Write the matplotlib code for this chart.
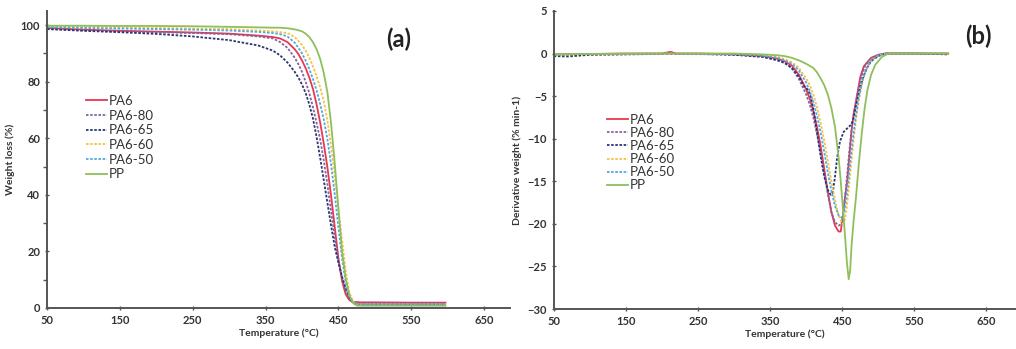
import matplotlib.pyplot as plt
import numpy as np

plt.rcParams['font.family'] = ['Lato', 'DejaVu Sans']

# ---- panel (a): TGA weight loss ----
Ta = [50, 100, 150, 200, 250, 300, 340, 360, 370, 380, 390, 395, 400, 405, 410, 415,
      420, 425, 430, 435, 440, 445, 450, 455, 460, 465, 470, 475, 480, 500, 550, 597]

wl_pa6 = [99.0, 98.4, 98.0, 97.7, 97.4, 97.0, 96.3, 95.8, 95.3, 94.0, 91.5, 89.8, 87.5, 84.8, 81.5, 77.5,
          72.0, 65.5, 58.0, 49.5, 39.5, 28.5, 17.5, 9.5, 4.8, 2.8, 2.2, 2.1, 2.0, 2.0, 1.9, 1.9]
wl_pa6_80 = [98.8, 98.2, 97.8, 97.5, 97.2, 96.8, 96.0, 95.3, 94.0, 92.0, 88.5, 86.2, 83.5, 80.0, 76.0, 71.0,
             65.5, 59.5, 52.0, 43.5, 34.0, 25.0, 17.0, 10.5, 6.0, 3.3, 1.8, 1.5, 1.4, 1.4, 1.4, 1.4]
wl_pa6_65 = [98.6, 98.0, 97.5, 96.9, 96.0, 94.7, 92.8, 91.0, 89.3, 86.8, 83.5, 81.5, 79.0, 76.0, 72.0, 67.0,
             60.5, 53.0, 45.0, 37.0, 29.0, 21.5, 16.0, 11.0, 7.0, 3.8, 1.8, 1.2, 1.1, 1.1, 1.1, 1.1]
wl_pa6_60 = [99.5, 99.4, 99.2, 99.0, 98.8, 98.6, 98.1, 97.8, 97.5, 97.2, 95.8, 94.5, 93.0, 91.0, 88.5, 85.5,
             82.0, 78.0, 73.0, 66.0, 57.0, 46.5, 35.0, 24.0, 13.0, 5.5, 2.3, 1.5, 1.4, 1.4, 1.4, 1.4]
wl_pa6_50 = [99.3, 99.0, 98.8, 98.6, 98.4, 98.1, 97.6, 97.2, 96.8, 96.0, 93.8, 92.0, 90.0, 87.5, 84.5, 81.0,
             77.0, 72.0, 66.5, 59.5, 50.5, 40.0, 28.5, 17.5, 9.0, 4.0, 2.0, 1.5, 1.4, 1.4, 1.4, 1.4]
wl_pp = [99.8, 99.8, 99.7, 99.7, 99.6, 99.4, 99.2, 99.1, 99.1, 98.9, 98.5, 98.2, 97.8, 97.0, 95.8, 94.0,
         91.5, 88.0, 83.0, 76.0, 65.0, 51.0, 35.0, 20.0, 10.5, 4.5, 1.8, 0.9, 0.8, 0.8, 0.8, 0.8]

# ---- panel (b): DTG ----
Tb_pa6 = [50, 100, 150, 200, 212, 220, 250, 300, 340, 360, 370, 380, 390, 400, 405, 410, 415, 420, 425, 430,
          435, 440, 445, 448, 451, 454, 457, 460, 463, 466, 470, 475, 480, 490, 500, 510, 550, 597]
dw_pa6 = [-0.1, -0.05, 0, 0, 0.2, 0, 0, -0.1, -0.3, -0.6, -0.9, -1.4, -2.5, -4.2, -5.3, -6.8, -8.6, -10.8, -13.5, -16.2,
          -18.6, -20.2, -20.9, -20.9, -19.0, -16.8, -15.0, -12.0, -9.0, -7.0, -5.2, -2.8, -1.5, -0.5, -0.15, 0, 0, 0]

Tb_pa6_80 = [50, 100, 200, 300, 340, 360, 370, 380, 390, 400, 405, 410, 415, 420, 425, 430, 435, 440, 445, 449,
             452, 455, 458, 461, 464, 468, 472, 477, 482, 490, 500, 510, 550, 597]
dw_pa6_80 = [-0.15, -0.1, -0.05, -0.1, -0.35, -0.7, -1.0, -1.7, -3.0, -4.8, -6.0, -7.5, -9.4, -11.6, -14.0, -16.5, -18.6, -19.8, -20.2, -20.0,
             -18.5, -16.0, -13.2, -10.5, -8.3, -6.2, -4.3, -2.6, -1.4, -0.6, -0.2, 0, 0, 0]

Tb_pa6_65 = [50, 70, 100, 150, 200, 250, 300, 340, 360, 370, 380, 390, 397, 403, 407, 411, 415, 420, 425, 430,
             434, 437, 440, 443, 447, 452, 458, 463, 466, 470, 475, 480, 485, 490, 500, 510, 550, 597]
dw_pa6_65 = [-0.3, -0.35, -0.15, -0.1, -0.05, -0.05, -0.15, -0.4, -0.8, -1.1, -1.7, -2.7, -3.8, -4.3, -5.2, -7.0, -9.2, -12.0, -14.4, -16.0,
             -16.6, -16.3, -14.5, -12.2, -10.3, -9.2, -8.7, -8.3, -7.5, -5.8, -4.0, -2.6, -1.6, -0.9, -0.3, 0, 0, -0.1]

Tb_pa6_60 = [50, 100, 200, 300, 340, 360, 370, 380, 390, 400, 405, 410, 415, 420, 425, 430, 435, 440, 445, 450,
             453, 456, 459, 462, 465, 469, 473, 478, 483, 490, 500, 510, 550, 597]
dw_pa6_60 = [-0.1, -0.05, 0, -0.05, -0.2, -0.4, -0.65, -1.0, -1.7, -2.9, -3.7, -4.8, -6.3, -8.1, -10.2, -12.6, -15.0, -17.2, -19.0, -20.0,
             -19.8, -18.3, -16.0, -13.3, -10.8, -7.8, -5.5, -3.3, -1.9, -0.8, -0.25, 0, 0, 0]

Tb_pa6_50 = [50, 100, 200, 300, 340, 360, 370, 380, 390, 400, 405, 410, 415, 420, 425, 430, 435, 440, 445, 450,
             453, 456, 459, 462, 465, 469, 473, 478, 483, 490, 500, 510, 550, 597]
dw_pa6_50 = [-0.1, -0.05, 0, -0.05, -0.25, -0.5, -0.8, -1.2, -2.0, -3.4, -4.4, -5.7, -7.3, -9.2, -11.5, -13.9, -16.1, -17.9, -19.0, -19.3,
             -18.5, -16.8, -14.5, -12.0, -9.8, -7.3, -5.2, -3.2, -1.9, -0.8, -0.25, 0, 0, 0]

Tb_pp = [50, 100, 200, 300, 340, 360, 370, 380, 390, 400, 410, 415, 420, 425, 430, 435, 440, 445, 448, 451,
         454, 456.5, 459, 461, 463, 466, 469, 473, 477, 481, 485, 490, 496, 505, 514, 550, 597]
dw_pp = [-0.1, -0.05, 0, 0, -0.1, -0.2, -0.3, -0.5, -0.8, -1.2, -1.7, -2.2, -2.9, -3.7, -4.8, -6.4, -8.6, -12.2, -15.0, -18.2,
         -21.5, -24.5, -26.5, -25.5, -22.5, -19.5, -17.0, -13.0, -9.5, -6.5, -4.3, -2.5, -1.3, -0.4, 0, 0, 0]

labels = ['PA6', 'PA6-80', 'PA6-65', 'PA6-60', 'PA6-50', 'PP']
colors = ['#e8384f', '#8064a2', '#2b3570', '#f5c242', '#4fa8e0', '#8fbf5a']
styles = ['-', (0, (1.4, 0.9)), (0, (1.4, 0.9)), (0, (1.4, 0.9)), (0, (1.4, 0.9)), '-']

series_a = [wl_pa6, wl_pa6_80, wl_pa6_65, wl_pa6_60, wl_pa6_50, wl_pp]
series_b = [(Tb_pa6, dw_pa6), (Tb_pa6_80, dw_pa6_80), (Tb_pa6_65, dw_pa6_65),
            (Tb_pa6_60, dw_pa6_60), (Tb_pa6_50, dw_pa6_50), (Tb_pp, dw_pp)]

fig = plt.figure(figsize=(10.16, 3.49), dpi=100)
axa = fig.add_axes([0.0463, 0.1175, 0.456, 0.851])
axb = fig.add_axes([0.545, 0.1146, 0.455, 0.854])

for i in range(6):
    axa.plot(Ta, series_a[i], color=colors[i], ls=styles[i], lw=1.3, label=labels[i])
    axb.plot(series_b[i][0], series_b[i][1], color=colors[i], ls=styles[i], lw=1.3, label=labels[i])

def style_axis(ax, ylab):
    for s in ['top', 'right']:
        ax.spines[s].set_visible(False)
    for s in ['left', 'bottom']:
        ax.spines[s].set_color('#555555')
        ax.spines[s].set_linewidth(1.4)
    ax.set_xticks(np.arange(50, 651, 100))
    ax.tick_params(axis='both', labelsize=8, colors='#555555', labelcolor='#333333',
                   width=1.0, length=3, direction='inout')
    for t in ax.get_xticklabels() + ax.get_yticklabels():
        t.set_fontweight('bold')
    ax.set_xlabel('Temperature (°C)', fontsize=7.5, fontweight='bold', color='#333333', labelpad=2)
    ax.set_ylabel(ylab, fontsize=7.5, fontweight='bold', color='#333333', labelpad=4)

axa.set_xlim(50, 686)
axa.set_ylim(0, 105)
axa.set_yticks(np.arange(0, 101, 20))
axa.set_yticks(np.arange(10, 100, 20), minor=True)
axa.tick_params(axis='y', which='minor', length=3, width=1.0, colors='#555555', direction='out')
style_axis(axa, 'Weight loss (%)')

axb.set_xlim(50, 691)
axb.set_ylim(-30, 5)
axb.set_yticks(np.arange(-30, 6, 5))
style_axis(axb, 'Derivative weight (% min-1)')

fig.text(399 / 1016, 1 - 39 / 349, '(a)', fontsize=17, fontweight='bold',
         ha='center', va='center', color='#222222')
fig.text(978 / 1016, 1 - 36 / 349, '(b)', fontsize=17, fontweight='bold',
         ha='center', va='center', color='#222222')

axa.legend(loc='upper left', bbox_to_anchor=(86 / 1016, 1 - 95 / 349), bbox_transform=fig.transFigure,
           frameon=False, fontsize=9.5, labelspacing=0.2, handlelength=1.6, handletextpad=0.1,
           borderpad=0, borderaxespad=0, labelcolor='#333333')
axb.legend(loc='upper left', bbox_to_anchor=(607 / 1016, 1 - 114 / 349), bbox_transform=fig.transFigure,
           frameon=False, fontsize=9.5, labelspacing=0.08, handlelength=1.6, handletextpad=0.1,
           borderpad=0, borderaxespad=0, labelcolor='#333333')

fig.savefig('out.png', dpi=100)
